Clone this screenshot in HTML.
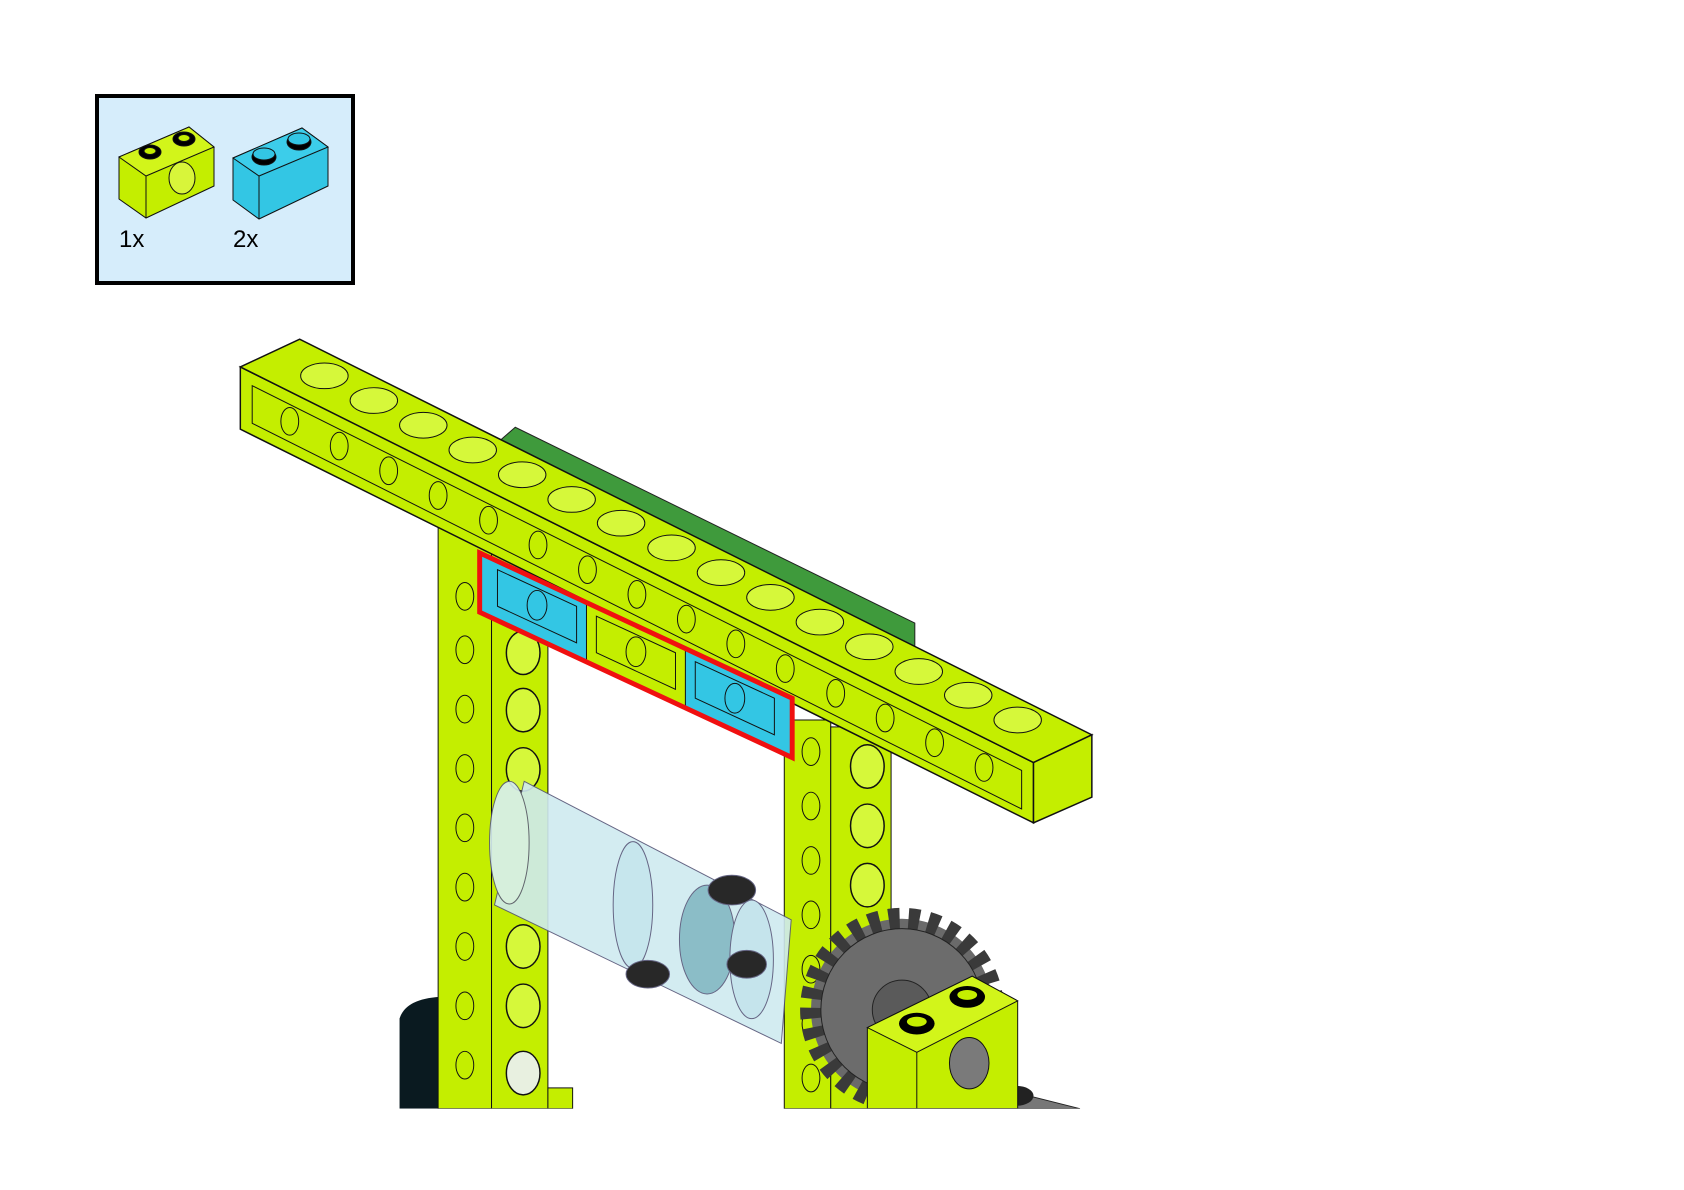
<!DOCTYPE html>
<html><head><meta charset="utf-8"><style>
html,body{margin:0;padding:0;background:#fff;width:1684px;height:1190px;overflow:hidden}
svg{display:block}
text{font-family:"Liberation Sans",sans-serif}
</style></head><body>
<svg width="1684" height="1190" viewBox="0 0 1684 1190" xmlns="http://www.w3.org/2000/svg">
<!-- parts box -->
<rect x="97" y="96" width="256" height="187" fill="#d6edfb" stroke="#000" stroke-width="4"/>
<g stroke="#111" stroke-width="1">
 <polygon points="119,157 189,127 214,147 214,186 146,218 119,199" fill="#c4ee00"/>
 <polygon points="119,157 146,176 214,147 189,127" fill="#d2f51a"/>
 <line x1="146" y1="176" x2="146" y2="218"/>
 <ellipse cx="182" cy="178" rx="13" ry="16" fill="#d8f53a"/>
 <ellipse cx="150" cy="152" rx="11" ry="7" fill="#000"/><ellipse cx="150" cy="151" rx="6" ry="3.5" fill="#c4ee00"/>
 <ellipse cx="184" cy="139" rx="11" ry="7" fill="#000"/><ellipse cx="184" cy="138" rx="6" ry="3.5" fill="#c4ee00"/>
 <polygon points="233,158 302,128 328,147 328,186 259,219 233,200" fill="#33c6e4"/>
 <polygon points="233,158 259,176 328,147 302,128" fill="#3ccdea"/>
 <line x1="259" y1="176" x2="259" y2="219"/>
 <ellipse cx="264" cy="157" rx="12" ry="8" fill="#000"/><ellipse cx="264" cy="154" rx="11" ry="6" fill="#33c6e4"/>
 <ellipse cx="299" cy="142" rx="12" ry="8" fill="#000"/><ellipse cx="299" cy="139" rx="11" ry="6" fill="#33c6e4"/>
</g>
<text x="119" y="247" font-size="24">1x</text>
<text x="233" y="247" font-size="24">2x</text>

<g transform="scale(0.989)">
<!-- green plate -->
<polygon points="506,445 521,432 925,630 925,665 506,470" fill="#3f9a3c" stroke="#222"/>
<!-- black part -->
<path d="M404,1121 L404,1030 Q410,1010 445,1008 L445,1121 Z" fill="#0a1a20"/>
<!-- left column -->
<rect x="443" y="532" width="54" height="589" fill="#c4ee00" stroke="#111"/>
<rect x="497" y="560" width="57" height="561" fill="#c4ee00" stroke="#111"/>
<rect x="554" y="1100" width="25" height="21" fill="#c4ee00" stroke="#111"/>
<g fill="#c4ee00" stroke="#111">
 <ellipse cx="470" cy="603" rx="9" ry="14"/><ellipse cx="470" cy="657" rx="9" ry="14"/><ellipse cx="470" cy="717" rx="9" ry="14"/><ellipse cx="470" cy="777" rx="9" ry="14"/><ellipse cx="470" cy="837" rx="9" ry="14"/><ellipse cx="470" cy="897" rx="9" ry="14"/><ellipse cx="470" cy="957" rx="9" ry="14"/><ellipse cx="470" cy="1017" rx="9" ry="14"/><ellipse cx="470" cy="1077" rx="9" ry="14"/>
</g>
<g fill="#d6f83a" stroke="#111" stroke-width="1.5">
 <ellipse cx="529" cy="660" rx="17" ry="22"/><ellipse cx="529" cy="718" rx="17" ry="22"/><ellipse cx="529" cy="778" rx="17" ry="22"/><ellipse cx="529" cy="957" rx="17" ry="22"/><ellipse cx="529" cy="1017" rx="17" ry="22"/>
 <ellipse cx="529" cy="1085" rx="17" ry="22" fill="#e8f0e0"/>
</g>
<!-- right column -->
<rect x="793" y="728" width="47" height="393" fill="#c4ee00" stroke="#111"/>
<rect x="840" y="735" width="61" height="386" fill="#c4ee00" stroke="#111"/>
<g fill="#c4ee00" stroke="#111">
 <ellipse cx="820" cy="760" rx="9" ry="14"/><ellipse cx="820" cy="815" rx="9" ry="14"/><ellipse cx="820" cy="870" rx="9" ry="14"/><ellipse cx="820" cy="925" rx="9" ry="14"/><ellipse cx="820" cy="980" rx="9" ry="14"/><ellipse cx="820" cy="1035" rx="9" ry="14"/><ellipse cx="820" cy="1090" rx="9" ry="14"/>
</g>
<g fill="#d6f83a" stroke="#111" stroke-width="1.5">
 <ellipse cx="877" cy="775" rx="17" ry="22"/><ellipse cx="877" cy="835" rx="17" ry="22"/><ellipse cx="877" cy="895" rx="17" ry="22"/>
</g>
<!-- gear (in front of column) -->
<circle cx="912" cy="1021" r="92" fill="#6a6a6a" stroke="#3a3a3a" stroke-width="22" stroke-dasharray="11 9"/>
<circle cx="912" cy="1021" r="82" fill="#6c6c6c" stroke="#222"/>
<circle cx="912" cy="1021" r="30" fill="#5a5a5a" stroke="#222"/>
<!-- cylinder -->
<g stroke="#557" stroke-width="1" opacity="0.9">
 <polygon points="530,790 800,930 790,1055 500,915" fill="#cfeaf0"/>
 <ellipse cx="515" cy="852" rx="20" ry="62" fill="#d8f0f4"/>
 <ellipse cx="640" cy="915" rx="20" ry="64" fill="#c0e4ec"/>
 <ellipse cx="715" cy="950" rx="28" ry="55" fill="#7fb6c2"/>
 <ellipse cx="760" cy="970" rx="22" ry="60" fill="#bfe2ea"/>
 <ellipse cx="740" cy="900" rx="24" ry="15" fill="#111"/>
 <ellipse cx="655" cy="985" rx="22" ry="14" fill="#111"/>
 <ellipse cx="755" cy="975" rx="20" ry="14" fill="#111"/>
</g>
<!-- small brick bottom right -->
<polygon points="960,1121 1000,1098 1092,1121" fill="#777" stroke="#222"/>
<ellipse cx="1028" cy="1108" rx="17" ry="10" fill="#222"/>
<polygon points="877,1039 983,987 1029,1012 1029,1121 927,1121 877,1121" fill="#c4ee00" stroke="#111"/>
<polygon points="877,1039 927,1064 1029,1012 983,987" fill="#d2f51a" stroke="#111"/>
<line x1="927" y1="1064" x2="927" y2="1121" stroke="#111"/>
<ellipse cx="980" cy="1075" rx="20" ry="26" fill="#7a7a7a" stroke="#111"/>
<ellipse cx="927" cy="1035" rx="18" ry="11" fill="#000"/><ellipse cx="927" cy="1033" rx="10" ry="5" fill="#c4ee00"/>
<ellipse cx="978" cy="1008" rx="18" ry="11" fill="#000"/><ellipse cx="978" cy="1006" rx="10" ry="5" fill="#c4ee00"/>
<rect x="0" y="1121" width="1800" height="100" fill="#fff"/>

<!-- beam -->
<polygon points="243,371 1045,771 1045,832 243,434" fill="#c4ee00" stroke="#111" stroke-width="1.5"/>
<polygon points="255,390 1033,779 1033,818 255,428" fill="#c4ee00" stroke="#111"/>
<polygon points="243,371 303,343 1104,743 1045,771" fill="#c4ee00" stroke="#111" stroke-width="1.5"/>
<polygon points="1045,771 1104,743 1104,806 1045,832" fill="#c4ee00" stroke="#111" stroke-width="1.5"/>
<g fill="#d6f83a" stroke="#111">
 <ellipse cx="328" cy="380" rx="24" ry="13"/><ellipse cx="378" cy="405" rx="24" ry="13"/><ellipse cx="428" cy="430" rx="24" ry="13"/><ellipse cx="478" cy="455" rx="24" ry="13"/><ellipse cx="528" cy="480" rx="24" ry="13"/><ellipse cx="578" cy="505" rx="24" ry="13"/><ellipse cx="628" cy="529" rx="24" ry="13"/><ellipse cx="679" cy="554" rx="24" ry="13"/><ellipse cx="729" cy="579" rx="24" ry="13"/><ellipse cx="779" cy="604" rx="24" ry="13"/><ellipse cx="829" cy="629" rx="24" ry="13"/><ellipse cx="879" cy="654" rx="24" ry="13"/><ellipse cx="929" cy="679" rx="24" ry="13"/><ellipse cx="979" cy="703" rx="24" ry="13"/><ellipse cx="1029" cy="728" rx="24" ry="13"/>
</g>
<g fill="#c4ee00" stroke="#111">
 <ellipse cx="293" cy="426" rx="9" ry="14"/><ellipse cx="343" cy="451" rx="9" ry="14"/><ellipse cx="393" cy="476" rx="9" ry="14"/><ellipse cx="443" cy="501" rx="9" ry="14"/><ellipse cx="494" cy="526" rx="9" ry="14"/><ellipse cx="544" cy="551" rx="9" ry="14"/><ellipse cx="594" cy="576" rx="9" ry="14"/><ellipse cx="644" cy="601" rx="9" ry="14"/><ellipse cx="694" cy="626" rx="9" ry="14"/><ellipse cx="744" cy="651" rx="9" ry="14"/><ellipse cx="794" cy="676" rx="9" ry="14"/><ellipse cx="845" cy="701" rx="9" ry="14"/><ellipse cx="895" cy="726" rx="9" ry="14"/><ellipse cx="945" cy="751" rx="9" ry="14"/><ellipse cx="995" cy="776" rx="9" ry="14"/>
</g>
<!-- highlighted row -->
<polygon points="485,559 801,706 801,766 485,619" fill="#c4ee00" stroke="#111"/>
<polygon points="485,559 593,609 593,669 485,619" fill="#33c6e4" stroke="#111"/>
<polygon points="693,656 801,706 801,766 693,716" fill="#33c6e4" stroke="#111"/>
<g fill="none" stroke="#111">
 <polygon points="503,576 583,613 583,650 503,613"/><ellipse cx="543" cy="612" rx="10" ry="15"/>
 <polygon points="603,623 683,660 683,697 603,660"/><ellipse cx="643" cy="659" rx="10" ry="15"/>
 <polygon points="703,669 783,706 783,743 703,706"/><ellipse cx="743" cy="706" rx="10" ry="15"/>
</g>
<polygon points="485,559 801,706 801,766 485,619" fill="none" stroke="#f01010" stroke-width="5"/>
</g>
</svg>
</body></html>
